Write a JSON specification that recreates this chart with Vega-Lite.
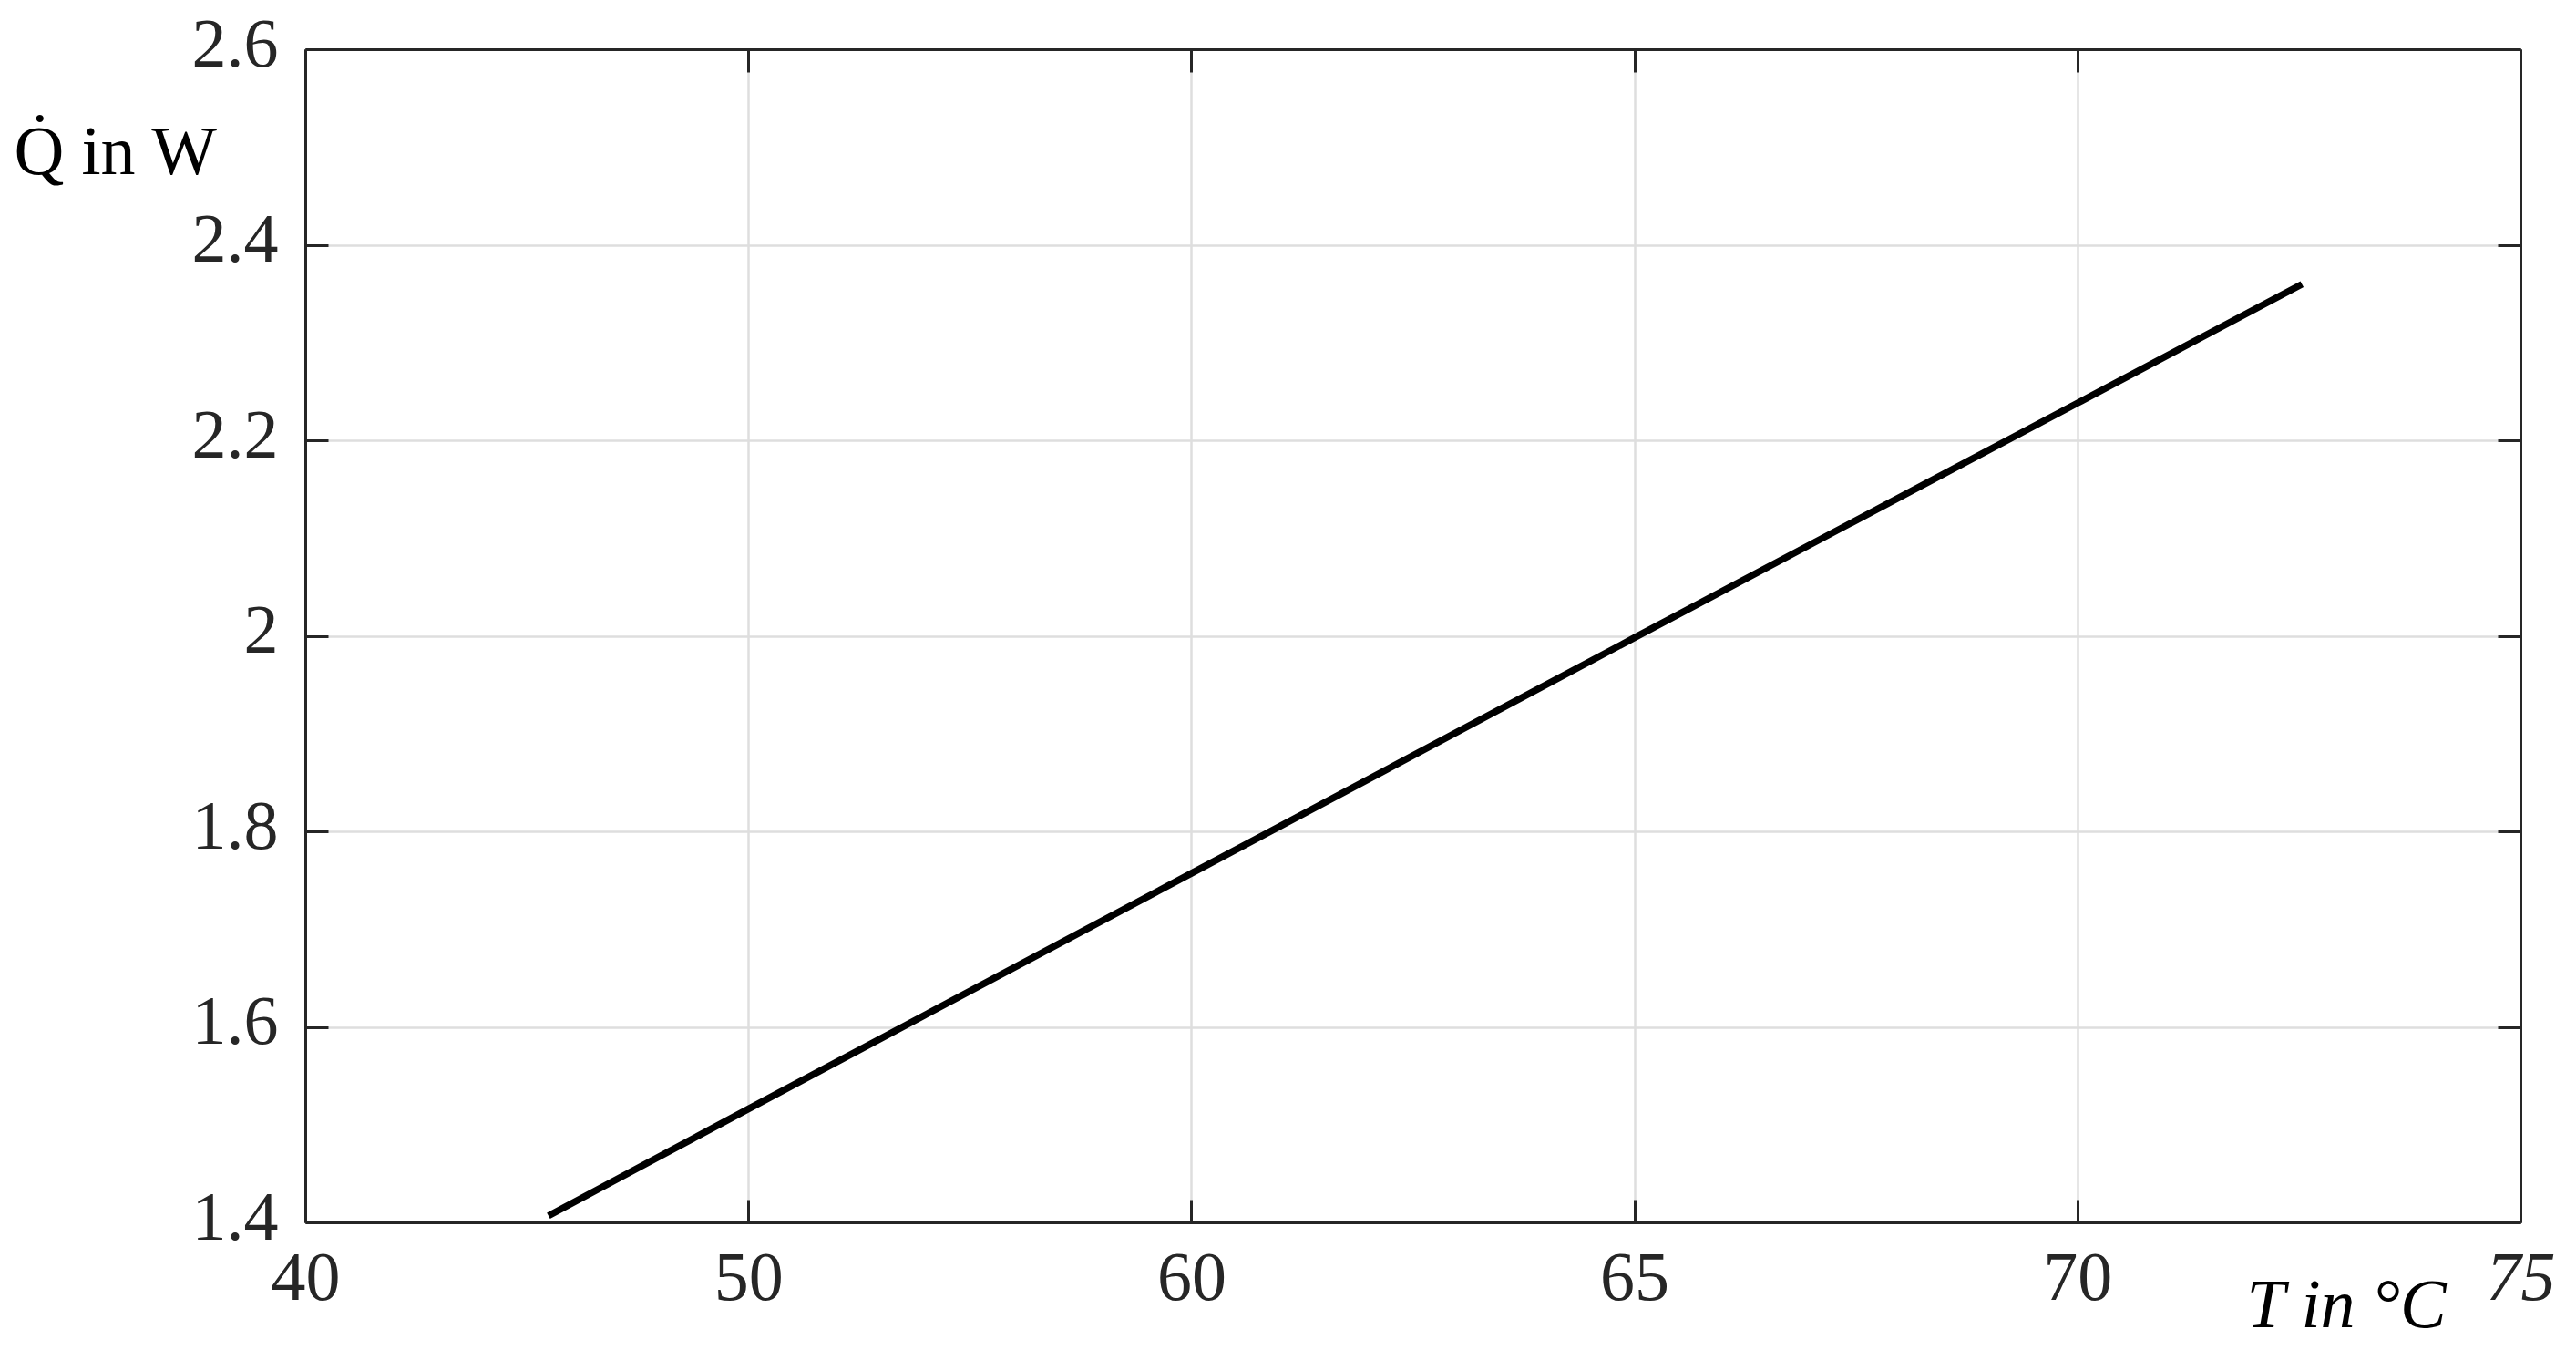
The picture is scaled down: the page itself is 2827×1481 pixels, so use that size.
{
  "$schema": "https://vega.github.io/schema/vega-lite/v6.json",
  "width": 2431,
  "height": 1287,
  "autosize": {"type": "none"},
  "padding": {"left": 335, "top": 54, "right": 61, "bottom": 140},
  "background": "white",
  "data": {"values": [
    {"T": 0.549, "Q": 1.4067},
    {"T": 1.0, "Q": 1.516},
    {"T": 2.0, "Q": 1.757},
    {"T": 3.0, "Q": 1.998},
    {"T": 4.0, "Q": 2.238},
    {"T": 4.507, "Q": 2.3597}
  ]},
  "config": {
    "view": {"stroke": null},
    "axis": {
      "domainColor": "#262626",
      "domainWidth": 3,
      "tickColor": "#262626",
      "tickWidth": 3,
      "gridColor": "#dedede",
      "gridWidth": 2.5,
      "labelFont": "Liberation Serif",
      "labelFontSize": 76,
      "labelColor": "#262626",
      "titleFont": "Liberation Serif",
      "titleFontSize": 76,
      "titleFontWeight": "normal",
      "titleColor": "#000000"
    }
  },
  "layer": [
    {
      "mark": {"type": "line", "opacity": 0},
      "encoding": {
        "x": {"field": "T", "type": "quantitative", "scale": {"domain": [0, 5], "nice": false},
          "axis": {"orient": "top", "labels": false, "title": null, "grid": false, "values": [0,1,2,3,4,5], "tickSize": -25}},
        "y": {"field": "Q", "type": "quantitative", "scale": {"domain": [1.4, 2.6], "nice": false, "zero": false},
          "axis": {"orient": "right", "labels": false, "title": null, "grid": false, "values": [1.4,1.6,1.8,2,2.2,2.4,2.6], "tickSize": -25}}
      }
    },
    {
      "mark": {"type": "line", "color": "#000000", "strokeWidth": 7.5, "strokeCap": "butt"},
      "encoding": {
        "x": {"field": "T", "type": "quantitative", "scale": {"domain": [0, 5], "nice": false},
          "axis": {"orient": "bottom", "values": [0,1,2,3,4,5], "tickSize": -25, "grid": true,
            "labelExpr": "['40','50','60','65','70','75'][datum.value]",
            "labelFontStyle": {"condition": {"test": "datum.value == 5", "value": "italic"}, "value": "normal"},
            "labelPadding": 49, "labelFlush": false,
            "title": "T in °C", "titleAlign": "left", "titleBaseline": "alphabetic", "titleAnchor": "start",
            "titleX": 2130, "titleY": 114, "titleFontStyle": "italic"}},
        "y": {"field": "Q", "type": "quantitative", "scale": {"domain": [1.4, 2.6], "nice": false, "zero": false},
          "axis": {"orient": "left", "values": [1.4,1.6,1.8,2,2.2,2.4,2.6], "tickSize": -25, "grid": true,
            "format": "~g", "labelPadding": 55, "labelOffset": -5, "labelFlush": false,
            "title": "Q̇ in W", "titleAngle": 0, "titleAlign": "left", "titleBaseline": "alphabetic",
            "titleX": -320, "titleY": 136}}
      }
    }
  ],
  "resolve": {"axis": {"x": "independent", "y": "independent"}}
}
